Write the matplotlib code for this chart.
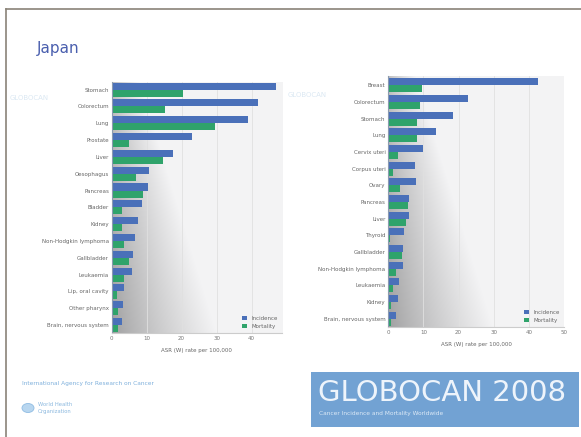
import numpy as np
import matplotlib
matplotlib.use('Agg')
import matplotlib.pyplot as plt
from matplotlib.patches import Rectangle, Circle

# Males (left chart)
male_sites = ['Stomach', 'Colorectum', 'Lung', 'Prostate', 'Liver', 'Oesophagus', 'Pancreas',
              'Bladder', 'Kidney', 'Non-Hodgkin lymphoma', 'Gallbladder', 'Leukaemia',
              'Lip, oral cavity', 'Other pharynx', 'Brain, nervous system']
male_inc = [47.1, 41.9, 39.0, 22.9, 17.6, 10.7, 10.3, 8.6, 7.4, 6.7, 6.0, 5.7, 3.5, 3.3, 2.9]
male_mort = [20.5, 15.2, 29.5, 5.0, 14.6, 7.0, 9.0, 2.9, 2.9, 3.6, 5.0, 3.6, 1.6, 1.9, 1.9]

# Females (right chart)
female_sites = ['Breast', 'Colorectum', 'Stomach', 'Lung', 'Cervix uteri', 'Corpus uteri', 'Ovary',
                'Pancreas', 'Liver', 'Thyroid', 'Gallbladder', 'Non-Hodgkin lymphoma', 'Leukaemia',
                'Kidney', 'Brain, nervous system']
female_inc = [42.7, 22.8, 18.5, 13.6, 9.8, 7.6, 7.8, 6.0, 5.9, 4.6, 4.3, 4.3, 3.0, 2.8, 2.1]
female_mort = [9.5, 9.0, 8.3, 8.3, 2.8, 1.4, 3.3, 5.7, 5.0, 0.5, 3.8, 2.2, 1.4, 0.9, 0.9]

xticks = [0, 10, 20, 30, 40, 50]

INC = '#4a70b9'
MORT = '#2fa36b'
W, H = 581, 437


def px_axes(fig, x0, y0, x1, y1):  # pixel box -> figure axes
    return fig.add_axes([x0 / W, 1 - y1 / H, (x1 - x0) / W, (y1 - y0) / H])


def shade(ax, xmax, ylim):
    # grey shadow in the lower left of the plot area, wider towards the bottom
    nx, ny = 300, 200
    xs = np.linspace(0, xmax, nx)
    fy = np.linspace(0, 1, ny).reshape(-1, 1)          # 0 top, 1 bottom
    reach = 8 + 22 * fy
    t = np.clip(xs.reshape(1, -1) / reach, 0, 1) ** 0.8
    dark = 0.74 - 0.12 * fy
    light = 0.955
    v = dark + (light - dark) * t
    img = np.dstack([v, v, v * 1.005]).clip(0, 1)
    ax.imshow(img, extent=[0, xmax, ylim[0], ylim[1]], aspect='auto', zorder=0,
              origin='upper', interpolation='bilinear')


def bar_chart(ax, sites, inc, mort, xmax, ylim):
    y = np.arange(len(sites))
    ax.set_facecolor('#f4f4f4')
    shade(ax, xmax, ylim)
    for t in xticks[1:]:
        ax.axvline(t, color='#e0e0e0', linewidth=0.6, zorder=0.5)
    ax.barh(y - 0.21, inc, height=0.42, color=INC, zorder=2, label='Incidence')
    ax.barh(y + 0.21, mort, height=0.42, color=MORT, zorder=2, label='Mortality')
    ax.set_xlim(0, xmax)
    ax.set_ylim(ylim)
    ax.set_yticks(y)
    ax.set_yticklabels(sites, fontsize=4, color='#666666')
    ax.set_xticks([t for t in xticks if t <= xmax])
    ax.set_xticklabels([str(t) for t in xticks if t <= xmax], fontsize=4, color='#777777')
    ax.tick_params(length=0, pad=2)
    ax.set_xlabel('ASR (W) rate per 100,000', fontsize=4, color='#666666', labelpad=5)
    for s in ['top', 'right']:
        ax.spines[s].set_visible(False)
    ax.spines['left'].set_color('#8a9ab0')
    ax.spines['bottom'].set_color('#cccccc')
    ax.legend(loc='lower right', fontsize=4, frameon=False, handlelength=0.8, handleheight=0.8,
              labelcolor='#666666', borderaxespad=0.4)


fig = plt.figure(figsize=(5.81, 4.37), dpi=100)
fig.patch.set_facecolor('white')

# slide frame lines
fig.add_artist(plt.Line2D([6 / W, 1], [1 - 9 / H, 1 - 9 / H], color='#8a8378', linewidth=1.2))
fig.add_artist(plt.Line2D([6 / W, 6 / W], [0, 1 - 9 / H], color='#8a8378', linewidth=1.2))

fig.text(37 / W, 1 - 48 / H, 'Japan', fontsize=11, color='#4a5fae', va='center')

# faint watermark logos in the chart images
fig.text(10 / W, 1 - 98 / H, 'GLOBOCAN', fontsize=5, color='#dbe8f3', va='center')
fig.text(288 / W, 1 - 95 / H, 'GLOBOCAN', fontsize=5, color='#dbe8f3', va='center')

ax1 = px_axes(fig, 111.7, 82, 282, 333)
bar_chart(ax1, male_sites, male_inc, male_mort, 48.7, (14.47, -0.45))

ax2 = px_axes(fig, 388.3, 76, 564, 327)
bar_chart(ax2, female_sites, female_inc, female_mort, 50, (14.5, -0.55))

# footer: IARC / WHO
fig.text(22 / W, 1 - 383 / H, 'International Agency for Research on Cancer', fontsize=4.2,
         color='#7fb0dc', va='center')
fig.add_artist(Circle((28 / W, 1 - 408 / H), 6 / W, transform=fig.transFigure,
                      facecolor='#b8d6ef', edgecolor='#8fbce3', linewidth=0.6))
fig.text(38 / W, 1 - 405 / H, 'World Health', fontsize=3.8, color='#8bb8df', va='center')
fig.text(38 / W, 1 - 412 / H, 'Organization', fontsize=3.8, color='#8bb8df', va='center')

# footer: GLOBOCAN banner
fig.add_artist(Rectangle((311 / W, 1 - 427 / H), 268 / W, 55 / H, transform=fig.transFigure,
                         facecolor='#72a2d3', edgecolor='none'))
fig.text(318 / W, 1 - 393 / H, 'GLOBOCAN 2008', fontsize=21, color='#eef4fb', va='center')
fig.text(319 / W, 1 - 414 / H, 'Cancer Incidence and Mortality Worldwide', fontsize=4.2,
         color='#dce9f6', va='center')

plt.savefig('out.png', dpi=100)
plt.close()
